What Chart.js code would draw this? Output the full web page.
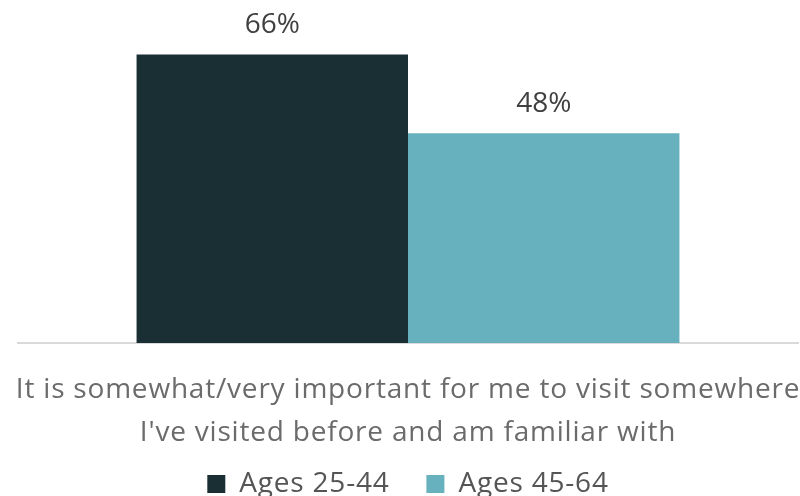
<!DOCTYPE html>
<html>
<head>
<meta charset="utf-8">
<script src="https://cdn.jsdelivr.net/npm/chart.js@4"></script>
<style>
  html, body { margin: 0; padding: 0; background: #fff; }
  #wrap { width: 800px; height: 496px; }
</style>
</head>
<body>
<div id="wrap"><canvas id="myChart"></canvas></div>
<script>
const categories = [['It is somewhat/very important for me to visit somewhere', "I've visited before and am familiar with"]];
const seriesNames = ['Ages 25-44', 'Ages 45-64'];
const ages25to44 = [66];
const ages45to64 = [48];
const barColors = ['#1a2f34', '#67b0bd'];

const FONT = "'Open Sans', sans-serif";

// a bit of tracking so the text runs as wide as a geometric face
const wideText = {
  id: 'wideText',
  beforeLayout(chart) { chart.ctx.letterSpacing = '0.8px'; },
  beforeDraw(chart) { chart.ctx.letterSpacing = '0.8px'; }
};

// percent labels above every bar
const valueLabels = {
  id: 'valueLabels',
  afterDatasetsDraw(chart) {
    const ctx = chart.ctx;
    ctx.save();
    ctx.letterSpacing = '0px';
    ctx.font = '28px ' + FONT;
    ctx.fillStyle = '#404040';
    ctx.textAlign = 'center';
    ctx.textBaseline = 'alphabetic';
    chart.data.datasets.forEach((ds, i) => {
      chart.getDatasetMeta(i).data.forEach((bar, j) => {
        ctx.fillText(ds.data[j] + '%', bar.x, bar.y - 21);
      });
    });
    ctx.restore();
  }
};

new Chart(document.getElementById('myChart'), {
  type: 'bar',
  data: {
    labels: categories,
    datasets: [
      { label: seriesNames[0], data: ages25to44, backgroundColor: barColors[0] },
      { label: seriesNames[1], data: ages45to64, backgroundColor: barColors[1] }
    ]
  },
  options: {
    responsive: true,
    maintainAspectRatio: false,
    animation: false,
    layout: { padding: { top: 2, left: 18, right: 2, bottom: -12 } },
    datasets: { bar: { categoryPercentage: 0.696, barPercentage: 1 } },
    plugins: {
      tooltip: { enabled: false },
      legend: {
        position: 'bottom',
        labels: {
          boxWidth: 18,
          boxHeight: 18,
          padding: 8,
          color: '#555',
          font: { family: FONT, size: 28 },
          // wider gap after the first entry
          generateLabels(chart) {
            const items = Chart.defaults.plugins.legend.labels.generateLabels(chart);
            items.forEach((it, i) => { if (i < items.length - 1) it.text += '\u2003'; });
            return items;
          }
        }
      }
    },
    scales: {
      y: { display: false, min: 0, max: 78 },
      x: {
        grid: { display: false },
        border: { display: true, color: '#d9d9d9', width: 2 },
        ticks: {
          color: '#6b6b6b',
          padding: 18,
          maxRotation: 0,
          font: { family: FONT, size: 28, lineHeight: 1.53 }
        },
        afterFit(scale) {
          // the long label may run to the canvas edges
          scale.paddingLeft = 0;
          scale.paddingRight = 0;
          scale.height = 119;
        }
      }
    }
  },
  plugins: [wideText, valueLabels]
});
</script>
</body>
</html>
